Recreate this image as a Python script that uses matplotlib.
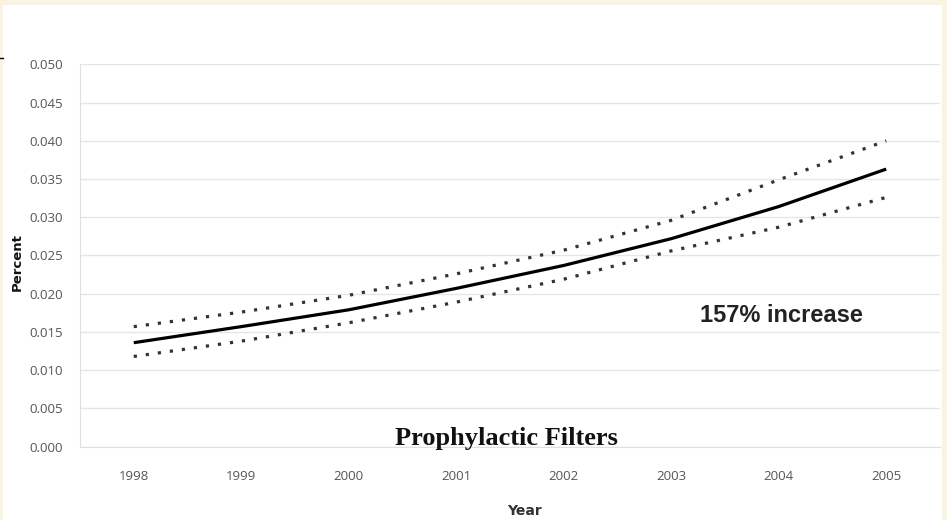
import matplotlib
matplotlib.use("Agg")
import matplotlib.pyplot as plt
from matplotlib.patches import Rectangle
from matplotlib.lines import Line2D

years = ["1998", "1999", "2000", "2001", "2002", "2003", "2004", "2005"]
estimate = [0.0136, 0.0157, 0.0179, 0.0207, 0.0237, 0.0272, 0.0314, 0.0363]
upper_ci = [0.0157, 0.0176, 0.0198, 0.0226, 0.0257, 0.0296, 0.0349, 0.0400]
lower_ci = [0.0118, 0.0138, 0.0162, 0.0189, 0.0219, 0.0256, 0.0287, 0.0326]
yticks = [0.000, 0.005, 0.010, 0.015, 0.020, 0.025, 0.030, 0.035, 0.040, 0.045, 0.050]

W, H = 947, 520
fig = plt.figure(figsize=(W / 100, H / 100), dpi=100)
fig.patch.set_facecolor("#fbf3e1")
fig.patches.append(Rectangle((3 / W, 0), (942 - 3) / W, 1 - 5 / H,
                             transform=fig.transFigure, facecolor="white",
                             edgecolor="none", zorder=-5))
fig.lines.append(Line2D([0, 3 / W], [1 - 58 / H, 1 - 58 / H], transform=fig.transFigure,
                        color="black", lw=1))

ax = fig.add_axes([80 / W, 1 - 446.7 / H, (940 - 80) / W, (446.7 - 64.3) / H])
ax.set_zorder(2)
ax.set_facecolor("white")
x = list(range(len(years)))
ax.plot(x, upper_ci, color="#333333", lw=2.3, linestyle=(0, (1, 2.8)), dash_capstyle="butt", zorder=3)
ax.plot(x, lower_ci, color="#333333", lw=2.3, linestyle=(0, (1, 2.8)), dash_capstyle="butt", zorder=3)
ax.plot(x, estimate, color="black", lw=2.3, solid_capstyle="butt", solid_joinstyle="round", zorder=4)

ax.set_xlim(-0.5, 7.5)
ax.set_ylim(0, 0.05)
ax.set_yticks(yticks)
ax.set_yticklabels([f"{v:.3f}" for v in yticks])
ax.set_xticks(x)
ax.set_xticklabels(years)
ax.grid(axis="y", color="#e6e6e6", lw=1)
ax.set_axisbelow(True)
for s in ["top", "right"]:
    ax.spines[s].set_visible(False)
ax.spines["left"].set_color("#e0e0e0")
ax.spines["bottom"].set_color("#e0e0e0")
ax.tick_params(axis="both", length=0, colors="#555555", labelsize=9.5)
ax.tick_params(axis="y", pad=12)
ax.tick_params(axis="x", pad=17)
for lab in ax.get_xticklabels() + ax.get_yticklabels():
    lab.set_fontfamily("Open Sans")

fig.text(17 / W, 1 - 262 / H, "Percent", rotation=90, ha="center", va="center",
         fontsize=9.5, fontweight="bold", color="#111111", family="DejaVu Sans", zorder=5)
fig.text(524 / W, 1 - 511 / H, "Year", ha="center", va="center",
         fontsize=10, fontweight="bold", color="#333333", family="DejaVu Sans", zorder=5)
fig.text(506 / W, 1 - 438 / H, "Prophylactic Filters", ha="center", va="center",
         fontsize=19, fontweight="bold", color="#111111", family="Liberation Serif", zorder=5)
fig.text(781 / W, 1 - 315 / H, "157% increase", ha="center", va="center",
         fontsize=17, fontweight="bold", color="#222222", family="Liberation Sans", zorder=5)

fig.savefig("out.png", dpi=100, facecolor=fig.get_facecolor())
